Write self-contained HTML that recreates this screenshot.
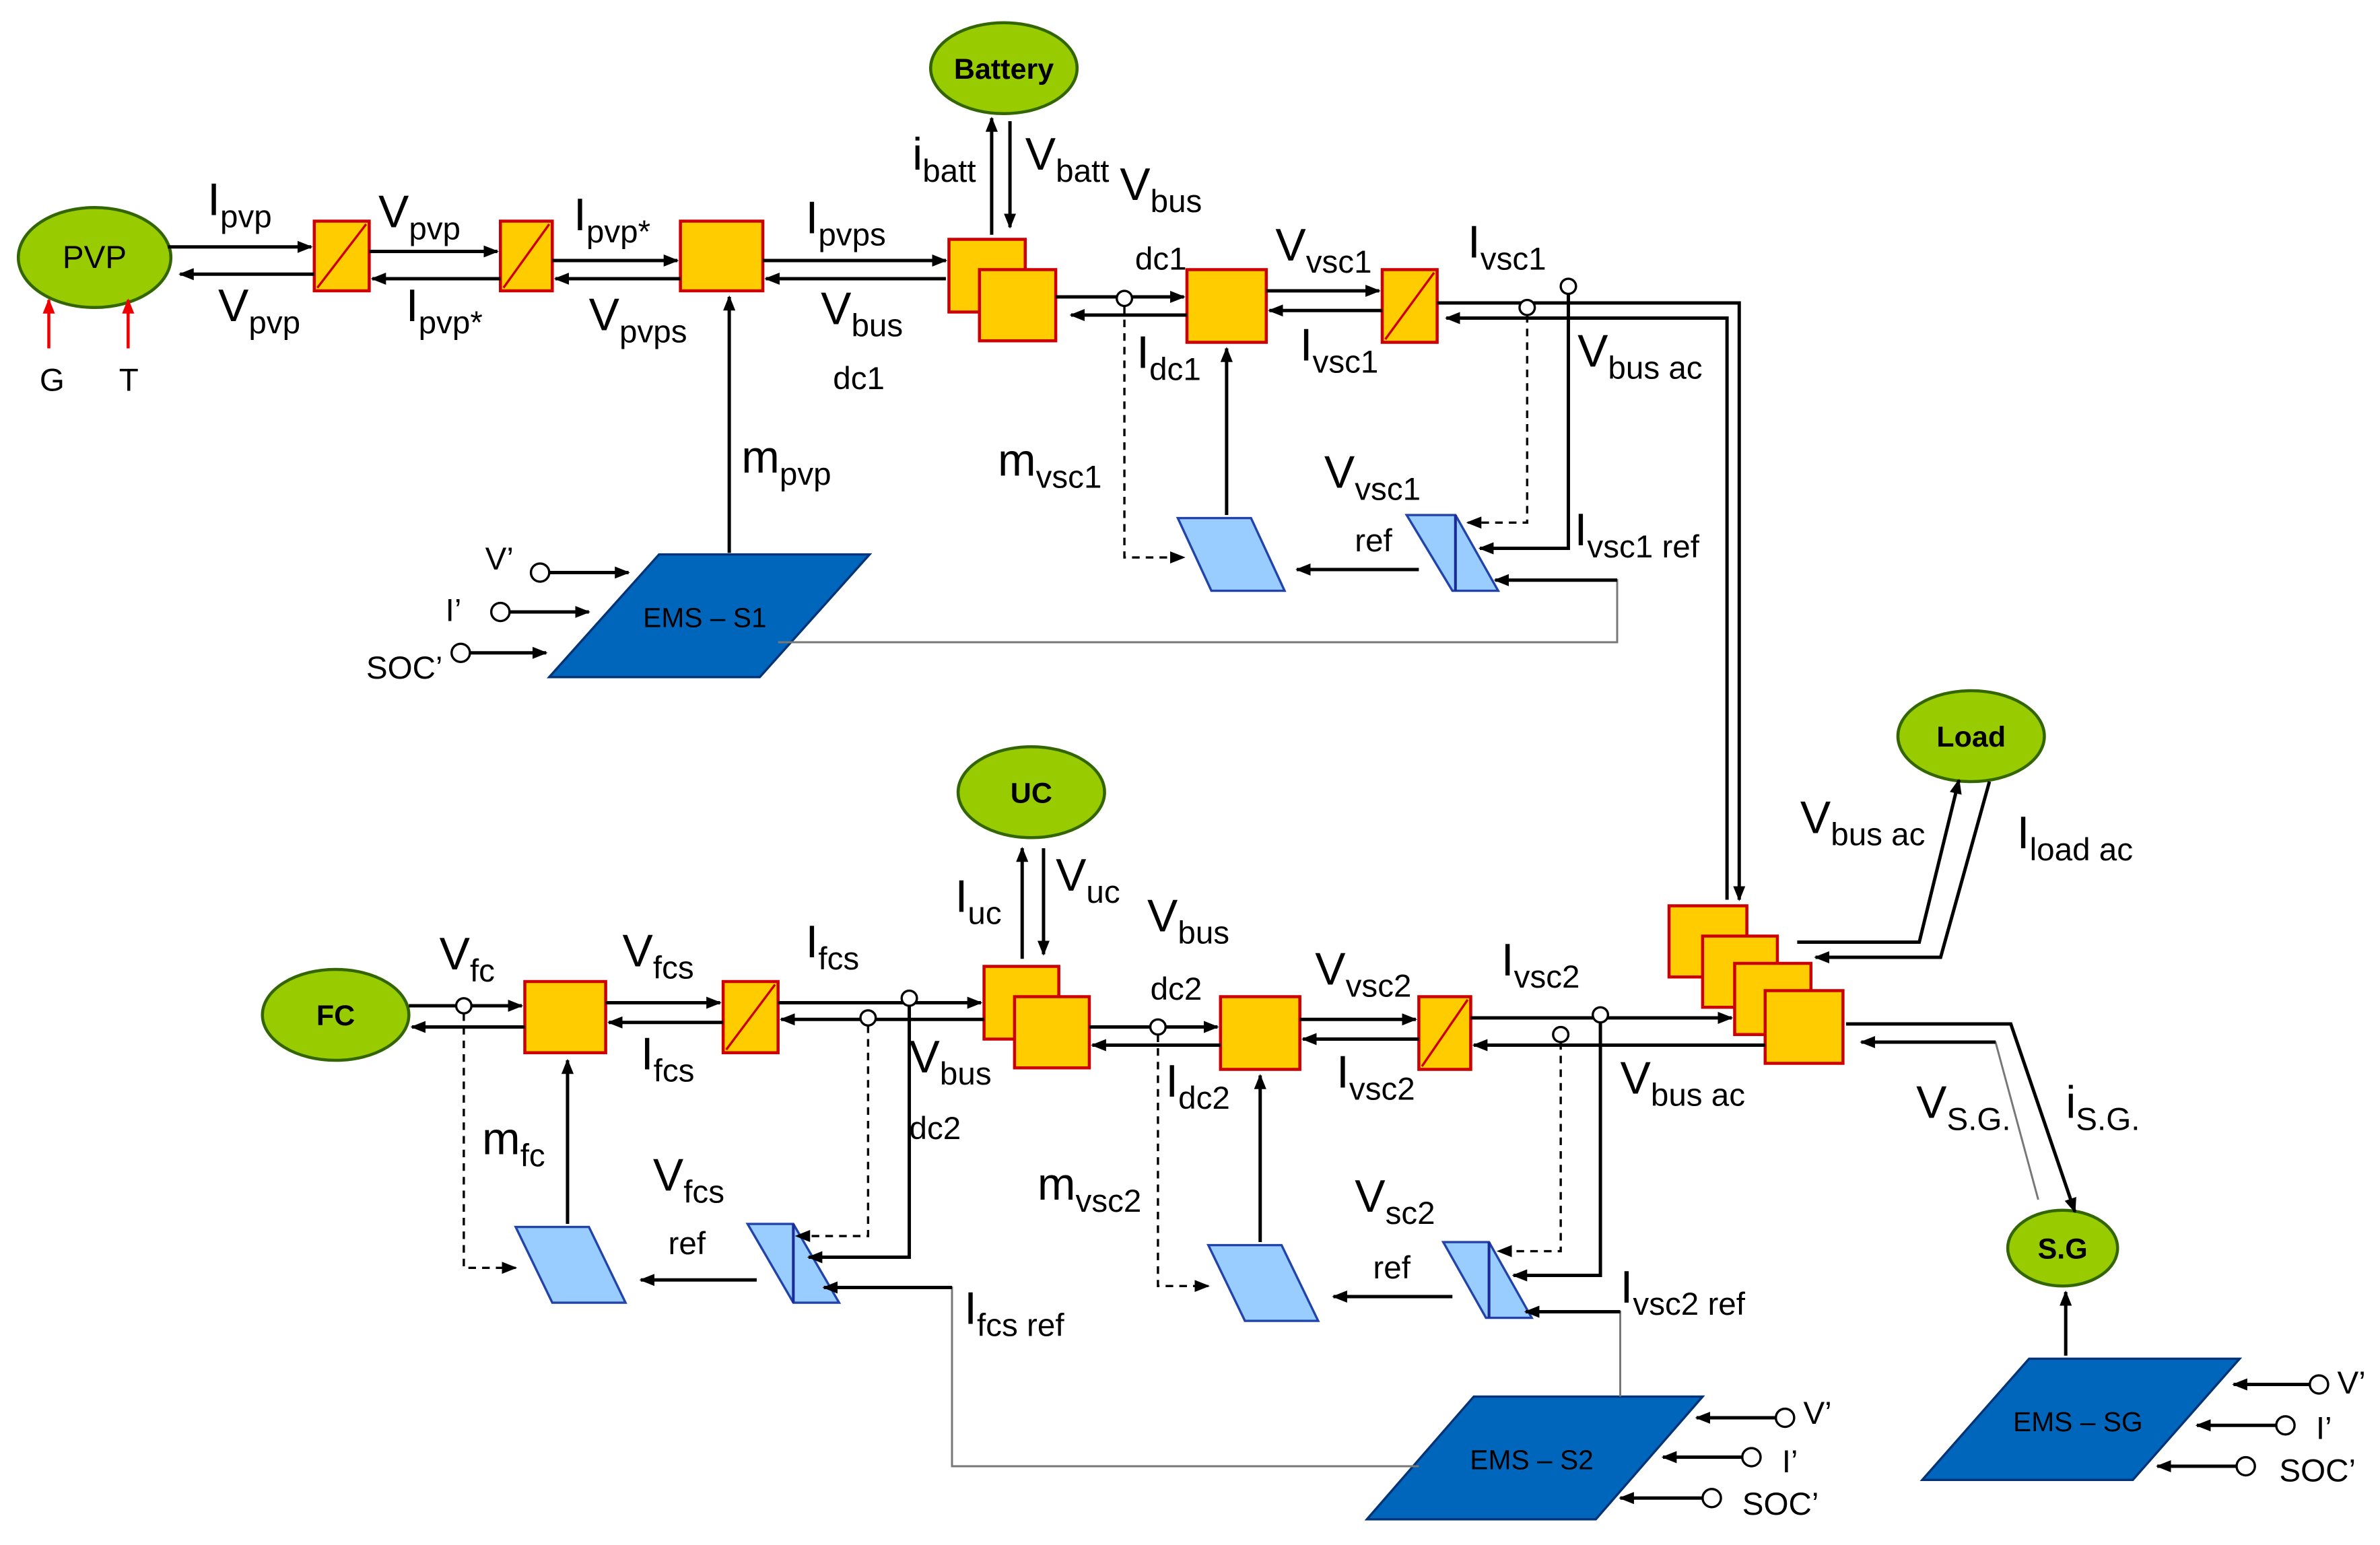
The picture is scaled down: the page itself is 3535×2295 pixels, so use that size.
<!DOCTYPE html>
<html><head><meta charset="utf-8"><style>
html,body{margin:0;padding:0;background:#fff;}
svg{display:block;}
.L{font-family:"Liberation Sans",sans-serif;font-size:30px;fill:#000;}
.s{font-size:21px;}
.m{font-family:"Liberation Sans",sans-serif;font-size:21px;fill:#000;}
.b{font-family:"Liberation Sans",sans-serif;font-size:19px;font-weight:bold;fill:#000;}
.e{font-family:"Liberation Sans",sans-serif;font-size:18px;fill:#000;}
.ln{stroke:#000;stroke-width:2.2;fill:none;}
.th{stroke:#777;stroke-width:1.3;fill:none;}
.d{stroke:#000;stroke-width:1.5;fill:none;stroke-dasharray:5,4;}
.y{fill:#ffcc00;stroke:#cc0000;stroke-width:2;}
.g{fill:#99cc00;stroke:#336600;stroke-width:2;}
.lb{fill:#99ccff;stroke:#2244aa;stroke-width:1.5;}
.db{fill:#0066bb;stroke:#003377;stroke-width:1.5;}
.c{fill:#fff;stroke:#000;stroke-width:1.5;}
</style></head><body>
<svg width="3535" height="2295" viewBox="0 0 1560 1020" preserveAspectRatio="none" xmlns="http://www.w3.org/2000/svg">
<defs>
<marker id="a" markerWidth="10" markerHeight="8" refX="9" refY="4" orient="auto" markerUnits="userSpaceOnUse"><path d="M0,0 L10,4 L0,8 Z" fill="#000"/></marker>
<marker id="r" markerWidth="10" markerHeight="8" refX="9" refY="4" orient="auto" markerUnits="userSpaceOnUse"><path d="M0,0 L10,4 L0,8 Z" fill="#e00"/></marker>
</defs>
<rect width="1560" height="1020" fill="#fff"/>

<ellipse class="g" cx="62" cy="170" rx="50" ry="33"/><text class="m" x="62" y="177" text-anchor="middle">PVP</text>
<ellipse class="g" cx="658" cy="45" rx="48" ry="30"/><text class="b" x="658" y="52" text-anchor="middle">Battery</text>
<ellipse class="g" cx="676" cy="523" rx="48" ry="30"/><text class="b" x="676" y="530" text-anchor="middle">UC</text>
<ellipse class="g" cx="1292" cy="486" rx="48" ry="30"/><text class="b" x="1292" y="493" text-anchor="middle">Load</text>
<ellipse class="g" cx="220" cy="670" rx="48" ry="30"/><text class="b" x="220" y="677" text-anchor="middle">FC</text>
<ellipse class="g" cx="1352" cy="824" rx="36" ry="25"/><text class="b" x="1352" y="831" text-anchor="middle">S.G</text>

<rect class="y" x="206" y="146" width="36" height="46"/><line x1="208" y1="190" x2="240" y2="148" stroke="#cc0000" stroke-width="1.5"/>
<rect class="y" x="328" y="146" width="34" height="46"/><line x1="330" y1="190" x2="360" y2="148" stroke="#cc0000" stroke-width="1.5"/>
<rect class="y" x="446" y="146" width="54" height="46"/>
<rect class="y" x="622" y="158" width="50" height="48"/><rect class="y" x="642" y="178" width="50" height="47"/>
<rect class="y" x="778" y="178" width="52" height="48"/>
<rect class="y" x="906" y="178" width="36" height="48"/><line x1="908" y1="224" x2="940" y2="180" stroke="#cc0000" stroke-width="1.5"/>
<rect class="y" x="344" y="648" width="53" height="47"/>
<rect class="y" x="474" y="648" width="36" height="47"/><line x1="476" y1="693" x2="508" y2="650" stroke="#cc0000" stroke-width="1.5"/>
<rect class="y" x="645" y="638" width="49" height="48"/><rect class="y" x="665" y="658" width="49" height="47"/>
<rect class="y" x="800" y="658" width="52" height="48"/>
<rect class="y" x="930" y="658" width="34" height="48"/><line x1="932" y1="704" x2="962" y2="660" stroke="#cc0000" stroke-width="1.5"/>
<rect class="y" x="1094" y="598" width="51" height="47"/><rect class="y" x="1116" y="618" width="49" height="47"/>
<rect class="y" x="1137" y="636" width="50" height="47"/><rect class="y" x="1157" y="654" width="51" height="48"/>

<polygon class="lb" points="772,342 820,342 842,390 794,390"/>
<polygon class="lb" points="922,340 954,340 982,390 952,390"/><line x1="954" y1="340" x2="954" y2="390" stroke="#1a2a99" stroke-width="1.8"/>
<polygon class="lb" points="338,810 386,810 410,860 362,860"/>
<polygon class="lb" points="490,808 520,808 550,860 520,860"/><line x1="520" y1="808" x2="520" y2="860" stroke="#1a2a99" stroke-width="1.8"/>
<polygon class="lb" points="792,822 840,822 864,872 816,872"/>
<polygon class="lb" points="946,820 976,820 1004,870 974,870"/><line x1="976" y1="820" x2="976" y2="870" stroke="#1a2a99" stroke-width="1.8"/>
<polygon class="db" points="360,447 432,366 570,366 498,447"/><text class="e" x="462" y="414" text-anchor="middle">EMS – S1</text>
<polygon class="db" points="896,1003 966,922 1116,922 1046,1003"/><text class="e" x="1004" y="970" text-anchor="middle">EMS – S2</text>
<polygon class="db" points="1260,977 1330,897 1468,897 1398,977"/><text class="e" x="1362" y="945" text-anchor="middle">EMS – SG</text>

<line class="ln" x1="110" y1="163" x2="204" y2="163" marker-end="url(#a)"/>
<line class="ln" x1="206" y1="181" x2="118" y2="181" marker-end="url(#a)"/>
<line class="ln" x1="242" y1="166" x2="326" y2="166" marker-end="url(#a)"/>
<line class="ln" x1="328" y1="184" x2="244" y2="184" marker-end="url(#a)"/>
<line class="ln" x1="362" y1="172" x2="444" y2="172" marker-end="url(#a)"/>
<line class="ln" x1="446" y1="184" x2="364" y2="184" marker-end="url(#a)"/>
<line class="ln" x1="500" y1="172" x2="620" y2="172" marker-end="url(#a)"/>
<line class="ln" x1="620" y1="184" x2="502" y2="184" marker-end="url(#a)"/>
<line class="ln" x1="692" y1="196" x2="776" y2="196" marker-end="url(#a)"/>
<line class="ln" x1="778" y1="208" x2="702" y2="208" marker-end="url(#a)"/>
<line class="ln" x1="830" y1="192" x2="904" y2="192" marker-end="url(#a)"/>
<line class="ln" x1="906" y1="205" x2="832" y2="205" marker-end="url(#a)"/>
<polyline class="ln" points="942,200 1140,200 1140,594" marker-end="url(#a)"/>
<polyline class="ln" points="1132,594 1132,210 948,210" marker-end="url(#a)"/>
<line class="ln" x1="650" y1="155" x2="650" y2="78" marker-end="url(#a)"/>
<line class="ln" x1="662" y1="80" x2="662" y2="150" marker-end="url(#a)"/>
<line class="ln" x1="478" y1="365" x2="478" y2="196" marker-end="url(#a)"/>
<line class="ln" x1="804" y1="340" x2="804" y2="230" marker-end="url(#a)"/>
<polyline class="d" points="737,202 737,368 776,368" marker-end="url(#a)"/>
<polyline class="ln" points="1028,194 1028,362 970,362" marker-end="url(#a)"/>
<polyline class="d" points="1001,208 1001,345 962,345" marker-end="url(#a)"/>
<line class="ln" x1="930" y1="376" x2="850" y2="376" marker-end="url(#a)"/>
<polyline class="th" points="510,424 1060,424 1060,383 1000,383"/>
<line class="ln" x1="1060" y1="383" x2="980" y2="383" marker-end="url(#a)"/>
<circle class="c" cx="737" cy="197" r="5"/><circle class="c" cx="1028" cy="189" r="5"/><circle class="c" cx="1001" cy="203" r="5"/>
<line class="ln" x1="360" y1="378" x2="412" y2="378" marker-end="url(#a)"/><circle class="c" cx="354" cy="378" r="6"/>
<line class="ln" x1="334" y1="404" x2="386" y2="404" marker-end="url(#a)"/><circle class="c" cx="328" cy="404" r="6"/>
<line class="ln" x1="308" y1="431" x2="358" y2="431" marker-end="url(#a)"/><circle class="c" cx="302" cy="431" r="6"/>
<line x1="32" y1="230" x2="32" y2="198" stroke="#e00" stroke-width="2" marker-end="url(#r)"/>
<line x1="84" y1="230" x2="84" y2="198" stroke="#e00" stroke-width="2" marker-end="url(#r)"/>

<line class="ln" x1="268" y1="664" x2="342" y2="664" marker-end="url(#a)"/>
<line class="ln" x1="344" y1="678" x2="270" y2="678" marker-end="url(#a)"/>
<line class="ln" x1="397" y1="662" x2="472" y2="662" marker-end="url(#a)"/>
<line class="ln" x1="474" y1="675" x2="399" y2="675" marker-end="url(#a)"/>
<line class="ln" x1="510" y1="662" x2="643" y2="662" marker-end="url(#a)"/>
<line class="ln" x1="645" y1="673" x2="512" y2="673" marker-end="url(#a)"/>
<line class="ln" x1="670" y1="633" x2="670" y2="560" marker-end="url(#a)"/>
<line class="ln" x1="684" y1="560" x2="684" y2="630" marker-end="url(#a)"/>
<line class="ln" x1="714" y1="678" x2="798" y2="678" marker-end="url(#a)"/>
<line class="ln" x1="800" y1="690" x2="716" y2="690" marker-end="url(#a)"/>
<line class="ln" x1="852" y1="673" x2="928" y2="673" marker-end="url(#a)"/>
<line class="ln" x1="930" y1="686" x2="854" y2="686" marker-end="url(#a)"/>
<line class="ln" x1="964" y1="672" x2="1135" y2="672" marker-end="url(#a)"/>
<line class="ln" x1="1157" y1="690" x2="966" y2="690" marker-end="url(#a)"/>
<polyline class="ln" points="1178,622 1258,622 1284,515" marker-end="url(#a)"/>
<polyline class="ln" points="1304,516 1272,632 1190,632" marker-end="url(#a)"/>
<polyline class="ln" points="1210,676 1318,676 1360,800" marker-end="url(#a)"/>
<polyline class="th" points="1336,792 1308,688 1240,688"/>
<line class="ln" x1="1308" y1="688" x2="1220" y2="688" marker-end="url(#a)"/>
<line class="ln" x1="1354" y1="895" x2="1354" y2="853" marker-end="url(#a)"/>
<line class="ln" x1="372" y1="808" x2="372" y2="700" marker-end="url(#a)"/>
<line class="ln" x1="826" y1="820" x2="826" y2="710" marker-end="url(#a)"/>
<polyline class="d" points="304,669 304,837 338,837" marker-end="url(#a)"/>
<polyline class="d" points="759,683 759,849 792,849" marker-end="url(#a)"/>
<line class="ln" x1="496" y1="845" x2="420" y2="845" marker-end="url(#a)"/>
<line class="ln" x1="952" y1="856" x2="874" y2="856" marker-end="url(#a)"/>
<polyline class="d" points="569,677 569,816 522,816" marker-end="url(#a)"/>
<polyline class="ln" points="596,664 596,830 530,830" marker-end="url(#a)"/>
<polyline class="th" points="930,968 624,968 624,850 600,850"/>
<line class="ln" x1="624" y1="850" x2="540" y2="850" marker-end="url(#a)"/>
<polyline class="th" points="1062,922 1062,866 1040,866"/>
<line class="ln" x1="1062" y1="866" x2="1000" y2="866" marker-end="url(#a)"/>
<polyline class="ln" points="1049,675 1049,842 992,842" marker-end="url(#a)"/>
<polyline class="d" points="1023,688 1023,826 982,826" marker-end="url(#a)"/>
<circle class="c" cx="304" cy="664" r="5"/><circle class="c" cx="596" cy="659" r="5"/><circle class="c" cx="569" cy="672" r="5"/>
<circle class="c" cx="759" cy="678" r="5"/><circle class="c" cx="1049" cy="670" r="5"/><circle class="c" cx="1023" cy="683" r="5"/>
<line class="ln" x1="1164" y1="936" x2="1112" y2="936" marker-end="url(#a)"/><circle class="c" cx="1170" cy="936" r="6"/>
<line class="ln" x1="1142" y1="962" x2="1090" y2="962" marker-end="url(#a)"/><circle class="c" cx="1148" cy="962" r="6"/>
<line class="ln" x1="1116" y1="989" x2="1062" y2="989" marker-end="url(#a)"/><circle class="c" cx="1122" cy="989" r="6"/>
<line class="ln" x1="1514" y1="914" x2="1464" y2="914" marker-end="url(#a)"/><circle class="c" cx="1520" cy="914" r="6"/>
<line class="ln" x1="1492" y1="941" x2="1440" y2="941" marker-end="url(#a)"/><circle class="c" cx="1498" cy="941" r="6"/>
<line class="ln" x1="1466" y1="968" x2="1414" y2="968" marker-end="url(#a)"/><circle class="c" cx="1472" cy="968" r="6"/>

<text class="L" x="136" y="142">I<tspan class="s" dy="8">pvp</tspan></text>
<text class="L" x="143" y="212">V<tspan class="s" dy="8">pvp</tspan></text>
<text class="L" x="248" y="150">V<tspan class="s" dy="8">pvp</tspan></text>
<text class="L" x="266" y="212">I<tspan class="s" dy="8">pvp*</tspan></text>
<text class="L" x="376" y="152">I<tspan class="s" dy="8">pvp*</tspan></text>
<text class="L" x="386" y="218">V<tspan class="s" dy="8">pvps</tspan></text>
<text class="L" x="528" y="154">I<tspan class="s" dy="8">pvps</tspan></text>
<text class="L" x="538" y="214">V<tspan class="s" dy="8">bus</tspan></text>
<text class="m" x="546" y="257">dc1</text>
<text class="L" x="598" y="112">i<tspan class="s" dy="8">batt</tspan></text>
<text class="L" x="672" y="112">V<tspan class="s" dy="8">batt</tspan></text>
<text class="L" x="734" y="132">V<tspan class="s" dy="8">bus</tspan></text>
<text class="m" x="744" y="178">dc1</text>
<text class="L" x="836" y="172">V<tspan class="s" dy="8">vsc1</tspan></text>
<text class="L" x="962" y="170">I<tspan class="s" dy="8">vsc1</tspan></text>
<text class="L" x="745" y="243">I<tspan class="s" dy="8">dc1</tspan></text>
<text class="L" x="852" y="238">I<tspan class="s" dy="8">vsc1</tspan></text>
<text class="L" x="1034" y="242">V<tspan class="s" dy="8">bus ac</tspan></text>
<text class="L" x="486" y="312">m<tspan class="s" dy="8">pvp</tspan></text>
<text class="L" x="654" y="314">m<tspan class="s" dy="8">vsc1</tspan></text>
<text class="L" x="868" y="322">V<tspan class="s" dy="8">vsc1</tspan></text>
<text class="m" x="888" y="364">ref</text>
<text class="L" x="1032" y="360">I<tspan class="s" dy="8">vsc1 ref</tspan></text>
<text class="m" x="318" y="376">V’</text>
<text class="m" x="292" y="410">I’</text>
<text class="m" x="240" y="448">SOC’</text>
<text class="m" x="26" y="258">G</text>
<text class="m" x="78" y="258">T</text>

<text class="L" x="288" y="640">V<tspan class="s" dy="8">fc</tspan></text>
<text class="L" x="408" y="638">V<tspan class="s" dy="8">fcs</tspan></text>
<text class="L" x="528" y="632">I<tspan class="s" dy="8">fcs</tspan></text>
<text class="L" x="420" y="706">I<tspan class="s" dy="8">fcs</tspan></text>
<text class="L" x="626" y="602">I<tspan class="s" dy="8">uc</tspan></text>
<text class="L" x="692" y="588">V<tspan class="s" dy="8">uc</tspan></text>
<text class="L" x="752" y="615">V<tspan class="s" dy="8">bus</tspan></text>
<text class="m" x="754" y="660">dc2</text>
<text class="L" x="862" y="650">V<tspan class="s" dy="8">vsc2</tspan></text>
<text class="L" x="984" y="644">I<tspan class="s" dy="8">vsc2</tspan></text>
<text class="L" x="596" y="708">V<tspan class="s" dy="8">bus</tspan></text>
<text class="m" x="596" y="752">dc2</text>
<text class="L" x="764" y="724">I<tspan class="s" dy="8">dc2</tspan></text>
<text class="L" x="876" y="718">I<tspan class="s" dy="8">vsc2</tspan></text>
<text class="L" x="1062" y="722">V<tspan class="s" dy="8">bus ac</tspan></text>
<text class="L" x="1180" y="550">V<tspan class="s" dy="8">bus ac</tspan></text>
<text class="L" x="1322" y="560">I<tspan class="s" dy="8">load ac</tspan></text>
<text class="L" x="1256" y="738">V<tspan class="s" dy="8">S.G.</tspan></text>
<text class="L" x="1354" y="738">i<tspan class="s" dy="8">S.G.</tspan></text>
<text class="L" x="316" y="762">m<tspan class="s" dy="8">fc</tspan></text>
<text class="L" x="428" y="786">V<tspan class="s" dy="8">fcs</tspan></text>
<text class="m" x="438" y="828">ref</text>
<text class="L" x="680" y="792">m<tspan class="s" dy="8">vsc2</tspan></text>
<text class="L" x="888" y="800">V<tspan class="s" dy="8">sc2</tspan></text>
<text class="m" x="900" y="844">ref</text>
<text class="L" x="632" y="874">I<tspan class="s" dy="8">fcs ref</tspan></text>
<text class="L" x="1062" y="860">I<tspan class="s" dy="8">vsc2 ref</tspan></text>
<text class="m" x="1182" y="940">V’</text>
<text class="m" x="1168" y="972">I’</text>
<text class="m" x="1142" y="1000">SOC’</text>
<text class="m" x="1532" y="920">V’</text>
<text class="m" x="1518" y="950">I’</text>
<text class="m" x="1494" y="978">SOC’</text>
</svg>
</body></html>
